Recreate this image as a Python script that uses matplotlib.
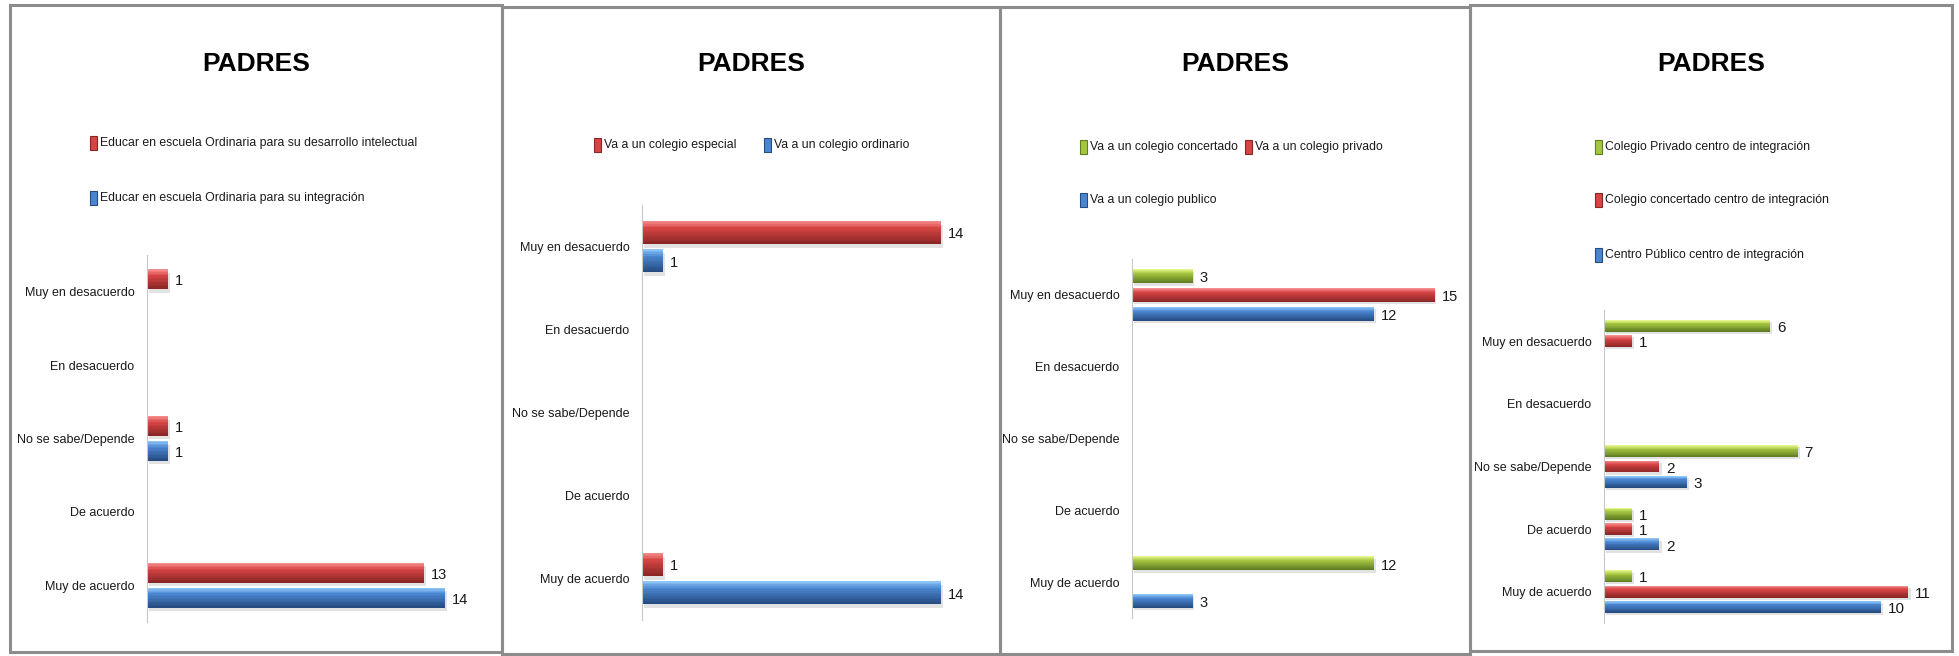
import numpy as np
import matplotlib
matplotlib.use("Agg")
import matplotlib.pyplot as plt
from matplotlib.patches import Rectangle

W, H = 1959, 656
plt.rcParams["font.family"] = ["Liberation Sans", "DejaVu Sans"]

categorias = ["Muy en desacuerdo", "En desacuerdo", "No se sabe/Depende", "De acuerdo", "Muy de acuerdo"]

# panel 1
p1_series = ["Educar en escuela Ordinaria para su desarrollo intelectual",
             "Educar en escuela Ordinaria para su integración"]
p1_intelectual = [1, 0, 1, 0, 13]
p1_integracion = [0, 0, 1, 0, 14]

# panel 2
p2_series = ["Va a un colegio especial", "Va a un colegio ordinario"]
p2_especial = [14, 0, 0, 0, 1]
p2_ordinario = [1, 0, 0, 0, 14]

# panel 3
p3_series = ["Va a un colegio concertado", "Va a un colegio privado", "Va a un colegio publico"]
p3_concertado = [3, 0, 0, 0, 12]
p3_privado = [15, 0, 0, 0, 0]
p3_publico = [12, 0, 0, 0, 3]

# panel 4
p4_series = ["Colegio Privado centro de integración", "Colegio concertado centro de integración",
             "Centro Público centro de integración"]
p4_privado = [6, 0, 7, 1, 1]
p4_concertado = [1, 0, 2, 1, 11]
p4_publico = [0, 0, 3, 2, 10]

# colores (claro, medio, oscuro)
ROJO = ("#f58c8c", "#d84444", "#8a2626")
AZUL = ("#8cc4f7", "#4a86d0", "#264b80")
VERDE = ("#e4f58a", "#a6c640", "#5f7d22")

fig = plt.figure(figsize=(W / 100, H / 100), dpi=100)
fig.patch.set_facecolor("white")


def fx(x):
    return x / W


def fy(y):
    return 1 - y / H


def mezcla(c1, c2, t):
    a = np.array(matplotlib.colors.to_rgb(c1))
    b = np.array(matplotlib.colors.to_rgb(c2))
    return tuple(a + (b - a) * t)


def barra3d(ax, y, v, h, col):
    if v <= 0:
        return
    claro, medio, oscuro = col
    ax.barh(y + h * 0.18, v, height=h, left=0.08, color="0.55", alpha=0.25, linewidth=0, zorder=1)
    n = 14
    for k in range(n):
        t = k / (n - 1)
        if t < 0.3:
            c = mezcla(claro, medio, t / 0.3)
        else:
            c = mezcla(medio, oscuro, (t - 0.3) / 0.7)
        ax.barh(y - h / 2 + (k + 0.5) * h / n, v, height=h / n * 1.05, color=c, linewidth=0, zorder=2)


def panel(caja, ejes, xmax, series, colores, alto, paso, fs_val=10.5):
    x0, y0, x1, y1 = caja
    fig.patches.append(Rectangle((fx(x0), fy(y1)), fx(x1 - x0), (y1 - y0) / H,
                                 transform=fig.transFigure, fill=False,
                                 edgecolor="#8c8c8c", linewidth=2.2))
    fig.text(fx((x0 + x1) / 2), fy(64), "PADRES", ha="center", va="center",
             fontsize=19, fontweight="bold")
    l, t, r, b = ejes
    ax = fig.add_axes([fx(l), fy(b), fx(r - l), (b - t) / H])
    ax.set_xlim(0, xmax)
    ax.set_ylim(len(categorias) - 0.5, -0.5)
    n = len(series)
    for i, vals in enumerate(series):
        off = (i - (n - 1) / 2) * paso
        for j, v in enumerate(vals):
            barra3d(ax, j + off, v, alto, colores[i])
            if v > 0:
                ax.annotate(str(v), xy=(v, j + off), xytext=(5, -1.5), textcoords="offset points",
                            va="center", ha="left", fontsize=fs_val, color="#1a1a1a")
    ax.set_yticks(range(len(categorias)))
    ax.set_yticklabels(categorias, fontsize=9, color="#1a1a1a")
    ax.tick_params(axis="y", length=0, pad=9)
    ax.set_xticks([])
    for s in ["top", "right", "bottom"]:
        ax.spines[s].set_visible(False)
    ax.spines["left"].set_color("#c8c8c8")
    ax.patch.set_alpha(0)
    return ax


def leyenda(items, fs=8.8):
    for x, y, txt, col in items:
        fig.patches.append(Rectangle((fx(x - 3), fy(y + 7)), fx(7), 14 / H,
                                     transform=fig.transFigure, facecolor=col[1],
                                     edgecolor=col[2], linewidth=0.8))
        fig.text(fx(x + 7), fy(y), txt, ha="left", va="center", fontsize=fs, color="#1a1a1a")


panel((10, 5, 502, 652), (147, 255, 488, 622), 16,
      [p1_intelectual, p1_integracion], [ROJO, AZUL], 0.27, 0.34)
leyenda([(93, 143, p1_series[0], ROJO), (93, 198, p1_series[1], AZUL)])

panel((502, 7, 1000, 654), (642, 205, 984, 620), 16,
      [p2_especial, p2_ordinario], [ROJO, AZUL], 0.28, 0.34)
leyenda([(597, 145, p2_series[0], ROJO), (767, 145, p2_series[1], AZUL)])

panel((1000, 7, 1470, 654), (1132, 259, 1455, 618), 16,
      [p3_concertado, p3_privado, p3_publico], [VERDE, ROJO, AZUL], 0.195, 0.26)
leyenda([(1083, 147, p3_series[0], VERDE), (1248, 147, p3_series[1], ROJO),
         (1083, 200, p3_series[2], AZUL)])

panel((1470, 5, 1952, 651), (1604, 310, 1936, 623), 12,
      [p4_privado, p4_concertado, p4_publico], [VERDE, ROJO, AZUL], 0.19, 0.245, fs_val=11)
leyenda([(1598, 147, p4_series[0], VERDE), (1598, 200, p4_series[1], ROJO),
         (1598, 255, p4_series[2], AZUL)])

fig.savefig("out.png", dpi=100, facecolor="white")
